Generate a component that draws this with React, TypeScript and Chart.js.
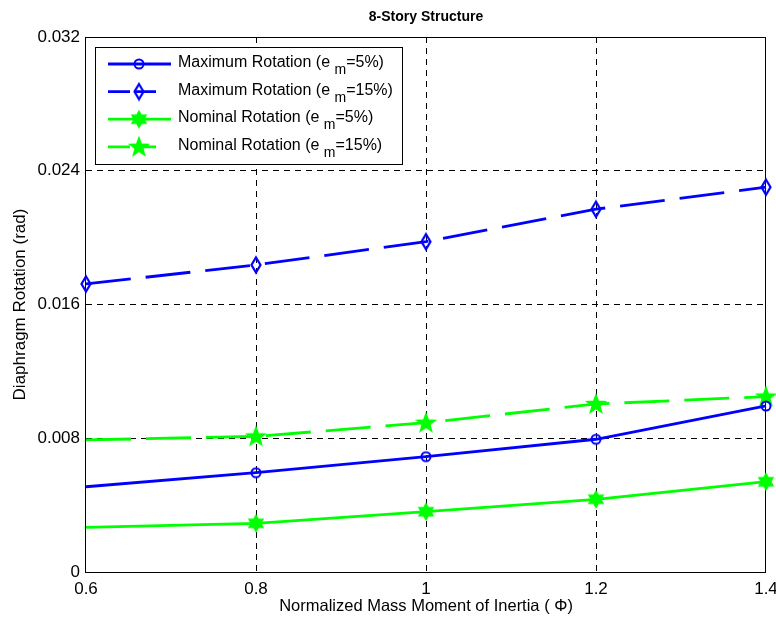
import React, { useEffect, useRef } from 'react';
import { Chart, registerables } from 'chart.js';

Chart.register(...registerables);

// Normalized mass moment of inertia (x values) and tick labels
const xValues = [0.6, 0.8, 1.0, 1.2, 1.4];
const xTickLabels = ['0.6', '0.8', '1', '1.2', '1.4'];
const yTickValues = [0, 0.008, 0.016, 0.024, 0.032];
const yTickLabels = ['0', '0.008', '0.016', '0.024', '0.032'];

// Diaphragm rotation (rad)
const maxRot5 = [0.0051, 0.00594, 0.0069, 0.00794, 0.00993];
const maxRot15 = [0.01723, 0.01837, 0.01976, 0.0217, 0.02302];
const nomRot5 = [0.00267, 0.00291, 0.00361, 0.00435, 0.0054];
const nomRot15 = [0.0079, 0.00811, 0.00893, 0.01005, 0.01049];

const seriesLabels = [
  'Maximum Rotation (e_m=5%)',
  'Maximum Rotation (e_m=15%)',
  'Nominal Rotation (e_m=5%)',
  'Nominal Rotation (e_m=15%)',
];

const chartTitle = '8-Story Structure';
const xTitle = 'Normalized Mass Moment of Inertia ( \u03A6)';
const yTitle = 'Diaphragm Rotation (rad)';

const FONT = '"Liberation Sans", Arial, Helvetica, sans-serif';
const BLUE = '#0000ff';
const GREEN = '#00ff00';

function makeCanvas(w: number, h: number, draw: (ctx: CanvasRenderingContext2D) => void) {
  const c = document.createElement('canvas');
  c.width = w;
  c.height = h;
  const ctx = c.getContext('2d')!;
  draw(ctx);
  return c;
}

function starPath(ctx: CanvasRenderingContext2D, cx: number, cy: number, n: number, ro: number, ri: number) {
  ctx.beginPath();
  for (let i = 0; i < n * 2; i++) {
    const r = i % 2 === 0 ? ro : ri;
    const a = -Math.PI / 2 + (i * Math.PI) / n;
    const px = cx + r * Math.cos(a);
    const py = cy + r * Math.sin(a);
    if (i === 0) ctx.moveTo(px, py);
    else ctx.lineTo(px, py);
  }
  ctx.closePath();
}

const circleMarker = makeCanvas(14, 14, (ctx) => {
  ctx.strokeStyle = BLUE;
  ctx.lineWidth = 2;
  ctx.beginPath();
  ctx.arc(7, 7, 4.5, 0, Math.PI * 2);
  ctx.stroke();
});

const diamondMarker = makeCanvas(14, 20, (ctx) => {
  ctx.strokeStyle = BLUE;
  ctx.lineWidth = 2.2;
  ctx.beginPath();
  ctx.moveTo(7, 2.5);
  ctx.lineTo(11.5, 10);
  ctx.lineTo(7, 17.5);
  ctx.lineTo(2.5, 10);
  ctx.closePath();
  ctx.stroke();
});

const hexagramMarker = makeCanvas(20, 20, (ctx) => {
  ctx.fillStyle = GREEN;
  ctx.strokeStyle = GREEN;
  ctx.lineWidth = 1.5;
  starPath(ctx, 10, 10, 6, 8, 4.6);
  ctx.fill();
  ctx.stroke();
});

const pentagramMarker = makeCanvas(24, 24, (ctx) => {
  ctx.fillStyle = GREEN;
  ctx.strokeStyle = GREEN;
  ctx.lineWidth = 1.5;
  starPath(ctx, 12, 12.5, 5, 9.5, 3.9);
  ctx.fill();
  ctx.stroke();
});

const markers = [circleMarker, diamondMarker, hexagramMarker, pentagramMarker];
const colors = [BLUE, BLUE, GREEN, GREEN];
const dashes: number[][] = [[], [45, 15], [], [45, 15]];
const legendDashes: number[][] = [[], [22, 4], [], [22, 4]];

function drawSubLabel(ctx: CanvasRenderingContext2D, label: string, x: number, y: number, size: number) {
  const [head, rest] = label.split('_');
  const sub = rest.charAt(0);
  const tail = rest.slice(1);
  ctx.textAlign = 'left';
  ctx.textBaseline = 'alphabetic';
  ctx.font = `${size}px ${FONT}`;
  ctx.fillText(head + ' ', x, y);
  let cx = x + ctx.measureText(head + ' ').width;
  ctx.font = `${Math.round(size * 0.85)}px ${FONT}`;
  ctx.fillText(sub, cx, y + 7);
  cx += ctx.measureText(sub).width;
  ctx.font = `${size}px ${FONT}`;
  ctx.fillText(tail, cx, y);
}

// grid lines only inside the frame; the frame itself is drawn solid
const innerGridColor = (c: any) => {
  const n = c.scale && c.scale.ticks ? c.scale.ticks.length : 0;
  return c.index === 0 || c.index === n - 1 ? 'rgba(0,0,0,0)' : '#000';
};

const framePlugin = {
  id: 'frame',
  beforeDatasetsDraw(chart: any) {
    const { ctx, chartArea } = chart;
    ctx.save();
    ctx.strokeStyle = '#000';
    ctx.lineWidth = 1;
    ctx.setLineDash([]);
    ctx.strokeRect(
      Math.round(chartArea.left) - 0.5,
      Math.round(chartArea.top) + 0.5,
      Math.round(chartArea.right - chartArea.left),
      Math.round(chartArea.bottom - chartArea.top)
    );
    ctx.restore();
  },
  afterDraw(chart: any) {
    const { ctx, chartArea } = chart;
    const cx = (chartArea.left + chartArea.right) / 2;
    const cy = (chartArea.top + chartArea.bottom) / 2;
    ctx.save();
    ctx.fillStyle = '#000';

    // title
    ctx.font = `bold 14px ${FONT}`;
    ctx.textAlign = 'center';
    ctx.textBaseline = 'middle';
    ctx.fillText(chartTitle, cx, 17);

    // axis titles
    ctx.font = `16.5px ${FONT}`;
    ctx.fillText(xTitle, cx, 606);
    ctx.font = `17px ${FONT}`;
    ctx.save();
    ctx.translate(20, cy);
    ctx.rotate(-Math.PI / 2);
    ctx.fillText(yTitle, 0, 0);
    ctx.restore();

    // legend
    const bx = 95.5, by = 47.5, bw = 307, bh = 117;
    ctx.fillStyle = '#fff';
    ctx.fillRect(bx, by, bw, bh);
    ctx.strokeStyle = '#000';
    ctx.lineWidth = 1;
    ctx.strokeRect(bx, by, bw, bh);
    for (let i = 0; i < 4; i++) {
      const ly = 64 + i * 27.6;
      ctx.strokeStyle = colors[i];
      ctx.lineWidth = 2.8;
      ctx.setLineDash(legendDashes[i]);
      ctx.beginPath();
      ctx.moveTo(108, ly);
      ctx.lineTo(i % 2 === 0 ? 171 : 156, ly);
      ctx.stroke();
      ctx.setLineDash([]);
      const m = markers[i];
      ctx.drawImage(m, 139 - m.width / 2, ly - m.height / 2);
      ctx.fillStyle = '#000';
      drawSubLabel(ctx, seriesLabels[i], 178, ly + 3, 16);
    }
    ctx.restore();
  },
};

export default function App() {
  const canvasRef = useRef<HTMLCanvasElement | null>(null);

  useEffect(() => {
    if (!canvasRef.current) return;
    const series = [maxRot5, maxRot15, nomRot5, nomRot15];
    const datasets = series.map((vals, i) => ({
      label: seriesLabels[i].replace('_', ''),
      data: vals.map((v, j) => ({ x: xValues[j], y: v })),
      borderColor: colors[i],
      backgroundColor: colors[i],
      borderWidth: 2.8,
      borderDash: dashes[i],
      pointStyle: markers[i],
      // the first point of these series carries no marker
      pointRadius: vals.map((_, j) => (j === 0 && i !== 1 ? 0 : 5)),
      pointHoverRadius: 5,
      tension: 0,
      fill: false,
      clip: false as any,
    }));

    const chart = new Chart(canvasRef.current, {
      type: 'line',
      data: { datasets },
      plugins: [framePlugin],
      options: {
        animation: false,
        responsive: false,
        devicePixelRatio: 1,
        layout: { padding: { top: 37, right: 10, left: 0, bottom: 0 } },
        plugins: {
          legend: { display: false },
          title: { display: false },
          tooltip: { enabled: false },
        },
        scales: {
          x: {
            type: 'linear',
            min: 0.6,
            max: 1.4,
            afterBuildTicks: (s: any) => {
              s.ticks = xValues.map((v) => ({ value: v }));
            },
            afterFit: (s: any) => {
              s.height = 51;
              s.paddingLeft = 0;
              s.paddingRight = 0;
            },
            ticks: {
              callback: (_v: any, i: number) => xTickLabels[i],
              font: { family: FONT, size: 17 },
              color: '#000',
              padding: 7,
              maxRotation: 0,
              autoSkip: false,
            },
            grid: { color: innerGridColor, lineWidth: 1, drawTicks: false },
            border: { display: false, dash: [6, 5] },
          },
          y: {
            type: 'linear',
            min: 0,
            max: 0.032,
            afterBuildTicks: (s: any) => {
              s.ticks = yTickValues.map((v) => ({ value: v }));
            },
            afterFit: (s: any) => {
              s.width = 86;
              s.paddingTop = 0;
              s.paddingBottom = 0;
            },
            ticks: {
              callback: (_v: any, i: number) => yTickLabels[i],
              font: { family: FONT, size: 17 },
              color: '#000',
              padding: 6,
              autoSkip: false,
            },
            grid: { color: innerGridColor, lineWidth: 1, drawTicks: false },
            border: { display: false, dash: [6, 5] },
          },
        },
      },
    });
    return () => chart.destroy();
  }, []);

  return (
    <div style={{ position: 'absolute', left: 0, top: 0, width: 776, height: 623, background: '#fff' }}>
      <canvas ref={canvasRef} width={776} height={623} style={{ display: 'block' }} />
    </div>
  );
}
